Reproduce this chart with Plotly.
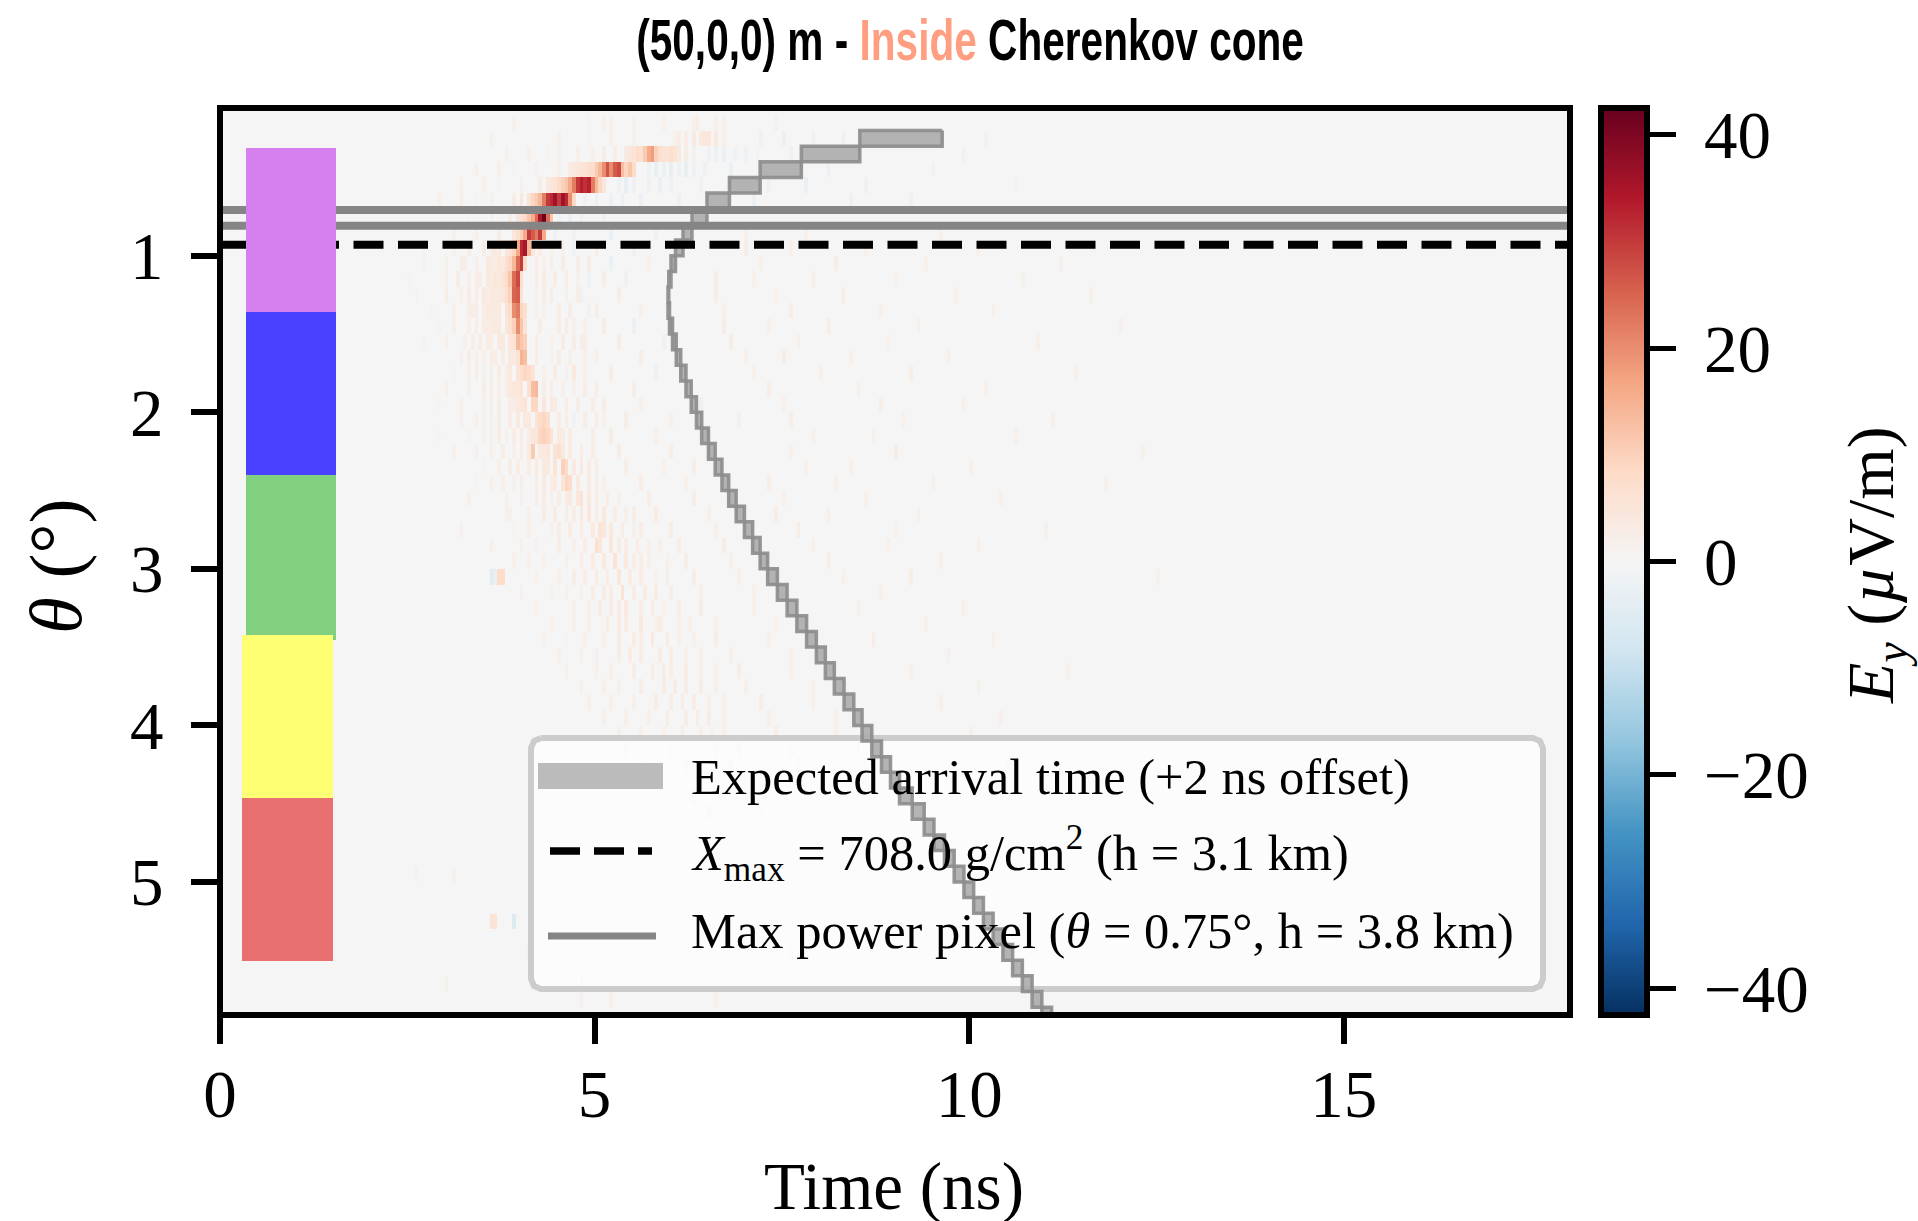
import numpy as np
import plotly.graph_objects as go

# ---------- data ----------
theta_rows = [round(0.05 + 0.1 * i, 2) for i in range(59)]
time_bins = [round(0.025 + 0.05 * j, 3) for j in range(361)]

ridge_cells = {
 0.15: [(4.9,1),(5.2,1.5),(5.5,1.5),(5.9,2),(6.3,2),(6.35,2.5),(6.6,2),(6.7,1.5)],
 0.25: [(4.9,1),(5.2,1.5),(5.5,1.5),(6.05,2),(6.1,3),(6.2,3),(6.3,3.5),(6.4,4),(6.45,5),(6.5,5),(6.6,4),(6.7,2)],
 0.35: [(4.35,1),(4.5,1.5),(4.75,2),(4.95,2),(5.1,2.5),(5.25,3),(5.4,3.5),(5.45,4.5),(5.5,6),(5.55,8),(5.6,7),(5.65,11),(5.7,16),(5.75,18),(5.8,10),(5.85,7),(5.9,6),(5.95,6),(6.0,7),(6.05,6),(6.1,4),(6.2,2.5),(6.3,1.5),(6.5,-1.5),(6.6,-2),(6.7,-2.5),(6.85,-1.5),(7.0,-1.5),(7.15,-1)],
 0.45: [(3.9,1),(4.2,1.5),(4.5,2),(4.65,3),(4.7,4),(4.75,5),(4.8,6),(4.85,6),(4.9,7),(4.95,8),(5.0,11),(5.05,14),(5.1,20),(5.15,27),(5.2,20),(5.25,26),(5.3,28),(5.35,13),(5.4,9),(5.45,12),(5.5,8),(5.7,-2),(5.8,-3),(5.9,-2.5),(6.0,-3),(6.1,-2),(6.2,-3),(6.3,-2),(6.45,-2)],
 0.55: [(3.7,1),(4.0,1.5),(4.27,3),(4.35,4),(4.4,5),(4.45,6),(4.5,8),(4.55,10),(4.6,12),(4.65,16),(4.7,22),(4.75,30),(4.8,33),(4.85,31),(4.9,33),(4.95,22),(5.0,14),(5.05,9),(5.1,5),(5.3,-2),(5.4,-3),(5.5,-2),(5.7,-2),(5.85,-2.5),(6.0,-2),(6.4,-1.5),(6.9,-1.5)],
 0.65: [(3.4,1),(3.6,1.5),(3.9,3),(4.0,5),(4.1,6),(4.15,9),(4.2,11),(4.25,14),(4.3,22),(4.35,30),(4.4,32),(4.45,36),(4.5,30),(4.55,36),(4.6,32),(4.65,20),(4.7,8),(4.85,-1.5),(5.0,-2),(5.2,-2.5),(5.35,-2)],
 0.75: [(3.3,1),(3.6,2),(3.85,3),(3.95,5),(4.0,6),(4.05,8),(4.1,12),(4.15,16),(4.2,24),(4.25,35),(4.3,43),(4.35,24),(4.4,12),(4.5,-2),(4.65,-2.5),(4.8,-2),(5.1,-1.5)],
 0.85: [(3.1,1.5),(3.4,2),(3.7,3),(3.9,5),(3.95,7),(4.0,10),(4.05,16),(4.1,30),(4.15,26),(4.2,22),(4.25,30),(4.3,16),(4.45,-2),(4.7,-1.5)],
 0.95: [(2.7,1),(3.1,1.5),(3.5,2.5),(3.7,4),(3.8,5),(3.85,6),(3.9,9),(3.95,16),(4.0,32),(4.05,35),(4.1,14),(4.15,5),(4.4,2),(4.7,-1.5)],
 1.05: [(2.7,1),(3.0,1.5),(3.4,2),(3.55,4),(3.7,5),(3.8,7),(3.85,9),(3.9,14),(3.95,24),(4.0,30),(4.05,8),(4.3,2),(4.55,2.5)],
 1.15: [(2.5,1),(3.0,2),(3.3,2),(3.55,4),(3.65,5),(3.75,6),(3.8,8),(3.85,12),(3.9,24),(3.95,28),(4.0,7),(4.3,3),(4.45,3),(4.9,-1.5)],
 1.25: [(2.6,1),(3.2,2),(3.4,3),(3.5,4),(3.65,4),(3.75,5),(3.8,7),(3.85,10),(3.9,25),(3.95,26),(4.0,6),(4.2,2),(4.6,1.5)],
 1.35: [(2.8,1),(3.1,2),(3.5,3),(3.6,4),(3.7,4),(3.8,6),(3.85,8),(3.9,20),(3.95,22),(4.0,9),(4.05,7),(4.3,1.5),(4.9,-1.5)],
 1.45: [(2.9,1),(3.3,2),(3.55,3),(3.7,4),(3.8,5),(3.85,7),(3.9,10),(3.95,20),(4.0,12),(4.05,6),(4.5,3),(4.7,2)],
 1.55: [(2.7,1),(3.25,2),(3.55,3),(3.75,4),(3.85,5),(3.9,6),(3.95,14),(4.0,12),(4.05,10),(4.4,2),(4.55,3)],
 1.65: [(3.2,1.5),(3.5,2),(3.75,3),(3.85,4),(3.95,6),(4.0,15),(4.05,13),(4.4,2),(4.65,2)],
 1.75: [(3.1,1),(3.5,1.5),(3.8,3),(3.95,6),(4.0,7),(4.05,9),(4.1,8),(4.15,6),(4.6,2),(4.7,4)],
 1.85: [(3.3,1.5),(3.7,2),(3.9,5),(4.0,6),(4.1,7),(4.15,13),(4.2,14),(4.55,2),(4.7,1.5)],
 1.95: [(2.9,1),(3.5,1.5),(3.85,3),(4.05,6),(4.15,9),(4.2,9),(4.3,5),(4.4,4),(4.6,3)],
 2.05: [(3.2,1.5),(3.6,1.5),(4.05,4),(4.2,6),(4.25,8),(4.3,9),(4.35,7),(4.5,3),(4.7,-1.5)],
 2.15: [(2.9,1),(3.3,1),(3.8,2),(4.1,3),(4.2,5),(4.25,9),(4.3,10),(4.35,9),(4.4,6),(4.55,3)],
 2.25: [(3.4,1.5),(3.9,2),(4.15,11),(4.25,4),(4.35,5),(4.45,6),(4.5,7),(4.55,4),(4.8,3)],
 2.35: [(3.5,1),(3.95,3),(4.3,4),(4.45,6),(4.55,10),(4.6,8),(4.8,4),(5.0,2.5)],
 2.45: [(3.4,1),(3.9,1.5),(4.4,3),(4.55,5),(4.6,9),(4.65,8),(4.9,3),(5.1,2)],
 2.55: [(4.0,1.5),(4.4,2),(4.6,3),(4.75,5),(4.8,6),(5.0,3),(5.3,2)],
 2.65: [(4.1,2),(4.6,2.5),(4.8,4),(4.9,5),(5.0,3),(5.25,3),(5.4,2)],
 2.75: [(3.9,1),(4.4,1.5),(4.8,3),(5.05,6),(5.1,5),(5.35,3),(5.5,2)],
 2.85: [(4.2,1.5),(4.7,2),(5.0,7),(5.05,5),(5.2,5),(5.4,3),(5.7,2)],
 2.95: [(4.1,1.5),(4.6,2),(5.1,4),(5.25,6),(5.4,4),(5.7,2)],
 3.05: [(3.6,-5),(3.65,-3),(3.7,8),(3.75,8),(4.5,2),(5.0,3),(5.3,5),(5.45,3),(5.8,2)],
 3.15: [(4.4,1.5),(4.8,2),(5.1,3),(5.35,6),(5.5,3),(5.8,3)],
 3.25: [(4.7,1.5),(5.2,3),(5.4,4),(5.6,3),(5.9,2)],
 3.35: [(4.9,2),(5.4,3),(5.6,4),(5.8,2),(6.1,2)],
 3.45: [(4.6,1),(5.1,2),(5.5,3),(5.75,4),(6.1,2)],
 3.55: [(5.0,1.5),(5.6,3),(5.85,3),(6.2,2)],
 3.65: [(5.2,2),(5.75,3),(6.0,3),(6.4,2)],
 3.75: [(5.3,1.5),(5.9,3),(6.2,2.5),(6.6,2)],
 3.85: [(5.5,2),(6.0,2.5),(6.3,3),(6.7,1.5)],
 3.95: [(5.7,2),(6.2,2.5),(6.5,2.5)],
 4.05: [(5.9,2),(6.4,2),(6.7,2)],
 4.15: [(6.0,1.5),(6.6,2),(6.9,2)],
 4.25: [(6.2,1.5),(6.8,2)],
 4.35: [(6.4,1.5),(7.0,2)],
 5.25: [(3.6,6),(3.65,6),(3.9,-6)],
}

faint_cells = {
 0.15: [(3.9,1.5),(5.1,2),(7.4,-1.5)],
 0.25: [(3.6,1.5),(4.5,2),(7.2,-2),(7.5,-2.5),(7.9,-2),(8.3,-2),(10.2,-1.5)],
 0.35: [(3.8,2),(4.1,2),(7.6,-2),(8.0,-2),(9.9,-1.5)],
 0.45: [(3.4,2),(3.7,2),(6.8,-2.5),(7.2,-2),(7.7,-2),(8.1,-2.5),(9.5,-1.5)],
 0.55: [(3.2,2),(3.5,2),(6.4,-2),(6.9,-2.5),(7.3,-2),(7.8,-2.5),(8.6,-2),(10.6,-1.5)],
 0.65: [(2.9,2),(3.2,2.5),(5.6,-2.5),(6.1,-2),(7.1,-2.5),(8.4,-2),(9.2,-2)],
 0.85: [(5.2,-2.5),(5.8,-2),(7.0,2),(7.8,2),(9.6,2)],
 0.95: [(5.0,2.5),(5.5,-2),(7.0,2.5),(7.6,2),(8.6,2),(10.1,2)],
 1.05: [(3.2,2.5),(4.9,2.5),(5.2,-2.5),(5.7,2),(7.2,2),(8.2,2.5),(9.4,2),(11.2,1.5)],
 1.15: [(3.15,2.5),(5.1,2.5),(5.4,-2),(6.6,2.5),(7.1,2),(7.9,2.5),(9.0,2),(10.7,1.5)],
 1.25: [(3.0,2.5),(4.8,-2),(5.3,3),(6.6,2.5),(7.4,2),(8.3,2.5),(9.8,2),(11.6,1.5)],
 1.35: [(3.3,2.5),(5.0,3),(5.6,2),(6.7,2),(7.6,2.5),(8.8,2),(10.3,2)],
 1.45: [(3.1,2),(5.1,2.5),(5.5,-2.5),(6.7,2.5),(7.3,2),(8.1,2.5),(9.3,2),(12.0,1.5)],
 1.55: [(3.0,2),(4.8,2.5),(5.3,3),(5.9,-2),(6.8,2.5),(7.7,2),(8.9,2),(10.9,2)],
 1.65: [(3.4,2),(5.0,2),(5.6,2.5),(7.0,2),(7.5,2.5),(8.4,2),(9.7,2)],
 1.75: [(3.3,2),(5.2,2.5),(5.8,-2),(7.1,2),(8.0,2),(9.2,2.5),(11.4,1.5)],
 1.85: [(3.0,2),(5.0,3),(5.5,2.5),(6.2,2),(7.3,2.5),(8.5,2),(10.2,2)],
 1.95: [(3.2,2),(5.1,2.5),(5.6,2),(6.4,-2),(7.5,2),(8.8,2.5),(9.9,2)],
 2.05: [(3.4,2),(5.0,3),(5.4,2.5),(6.0,2),(6.9,-2),(7.6,2.5),(9.1,2),(11.1,1.5)],
 2.15: [(3.6,2),(5.2,2.5),(5.8,2),(6.4,2.5),(7.9,2),(8.7,2),(10.6,2)],
 2.25: [(3.1,2),(5.3,3),(6.0,2.5),(6.5,-2),(7.6,2),(9.0,2.5),(12.3,1.5)],
 2.35: [(3.7,2),(5.4,2.5),(5.9,2),(6.3,2.5),(7.8,2),(8.4,2),(10.0,2)],
 2.45: [(3.6,2),(5.6,3),(6.2,2),(7.3,2.5),(8.2,2),(9.5,2),(11.8,1.5)],
 2.55: [(3.3,2),(5.7,2.5),(6.3,2.5),(7.5,2),(8.6,2),(10.4,2)],
 2.65: [(3.8,2),(5.8,3),(6.5,2),(7.4,2.5),(8.1,2),(9.3,2)],
 2.75: [(3.2,1.5),(6.0,2.5),(6.6,2),(7.7,2.5),(9.0,2),(11.0,1.5)],
 2.85: [(3.6,2),(6.1,3),(6.7,2.5),(7.9,2),(8.9,2),(10.1,2)],
 2.95: [(3.9,2),(6.2,2.5),(6.8,2),(8.1,2.5),(9.6,2)],
 3.05: [(4.2,2),(6.3,2.5),(6.9,2),(8.3,2),(9.2,2.5),(12.5,1.5)],
 3.15: [(4.0,1.5),(6.4,2),(7.1,2),(8.8,2)],
 3.25: [(4.2,2),(6.4,2.5),(7.1,2),(8.5,2),(9.9,2)],
 3.35: [(4.4,2),(6.6,2),(7.4,2),(9.4,1.5)],
 3.45: [(4.3,2),(6.6,2.5),(7.3,2),(8.7,2.5),(10.3,2)],
 3.55: [(4.5,2),(6.8,2),(7.6,2),(9.7,1.5)],
 3.65: [(4.6,2),(6.9,2.5),(7.6,2),(9.2,2),(11.3,1.5)],
 3.75: [(4.8,2),(7.0,2),(7.9,2),(10.1,1.5)],
 3.85: [(4.9,2),(7.2,2.5),(7.9,2),(9.6,2)],
 3.95: [(5.1,1.5),(7.3,2),(8.2,2),(10.4,1.5)],
 4.05: [(5.3,1.5),(7.4,2.5),(8.2,2),(10.0,2)],
 4.15: [(5.4,1.5),(7.6,2),(8.5,2)],
 4.25: [(5.6,1.5),(7.7,2),(8.6,2),(10.5,2)],
 4.45: [(6.3,2),(7.0,2)],
 4.55: [(6.5,1.5),(7.2,2)],
 4.95: [(2.6,1.5),(3.1,1.5)],
 5.45: [(4.1,1.5),(7.6,1.5)],
 5.65: [(3.0,1.5),(4.8,1.5)],
 5.75: [(4.8,1.5),(5.2,1.5),(6.6,1.5)],
}

wash_cells = {
 0.95: [(3.3,2.5),(3.6,3),(3.65,3.5),(4.25,3),(4.55,2)],
 1.05: [(3.25,2.5),(3.6,3.5),(3.65,3),(3.75,4),(4.2,3),(4.4,2.5),(4.75,2.5)],
 1.15: [(3.4,3),(3.45,3),(3.6,3),(3.7,4),(4.2,3),(4.6,2.5),(4.75,2)],
 1.25: [(3.3,3),(3.55,3),(3.6,4),(3.7,3.5),(4.3,3),(4.4,2.5),(4.75,2.5)],
 1.35: [(3.35,2.5),(3.4,3),(3.55,3.5),(3.65,3.5),(4.2,2),(4.5,3),(4.65,2.5)],
 1.45: [(3.4,2.5),(3.5,3),(3.6,3),(3.65,4),(4.25,3),(4.6,3),(4.85,2)],
 1.55: [(3.35,2.5),(3.45,3),(3.6,3),(3.7,3.5),(4.2,2.5),(4.7,2.5),(4.85,2.5)],
 1.65: [(3.3,2.5),(3.6,3),(3.65,3),(3.9,4),(4.2,3),(4.5,2.5),(4.85,2)],
 1.75: [(3.4,2.5),(3.6,2.5),(3.7,3),(3.85,4),(4.3,2),(4.45,3),(4.85,2)],
 1.85: [(3.5,2.5),(3.6,2.5),(3.8,3),(3.85,4),(3.95,5),(4.3,2.5),(4.4,3),(4.85,3)],
 1.95: [(3.6,2.5),(3.7,2.5),(3.9,3),(3.95,4),(4.0,5),(4.45,3),(4.75,2.5),(4.95,2.5)],
 2.05: [(3.5,2),(3.7,2.5),(3.85,3),(3.95,4),(4.1,4),(4.6,3),(4.85,2.5),(5.1,2)],
 2.15: [(3.5,2),(3.7,2.5),(3.9,3),(4.0,3),(4.15,5),(4.5,4),(4.65,3),(4.95,2.5)],
 2.25: [(3.6,2),(3.75,2.5),(4.0,3),(4.1,4),(4.3,4),(4.65,3),(4.95,3)],
 2.35: [(3.7,2),(3.85,2.5),(4.1,3),(4.2,4),(4.35,4),(4.7,3.5),(4.9,3)],
 2.45: [(3.75,2),(4.0,2.5),(4.2,3),(4.3,3.5),(4.45,4),(4.75,4),(5.0,3)],
 2.55: [(3.8,2),(4.2,2.5),(4.3,3),(4.5,3),(4.65,4),(4.9,4),(5.15,3)],
 2.65: [(3.85,2),(4.3,2.5),(4.45,3),(4.7,3),(5.1,4),(5.5,2.5)],
 2.75: [(4.1,2),(4.5,3),(4.65,3),(4.95,4),(5.2,4),(5.6,2.5)],
 2.85: [(4.0,2),(4.5,2.5),(4.85,3),(5.3,3),(5.55,3),(5.85,2)],
 2.95: [(4.3,2),(4.8,3),(4.95,3),(5.5,3),(5.6,3),(5.95,2)],
 3.05: [(4.7,2.5),(4.85,3),(5.15,3),(5.6,3),(5.95,2.5)],
 3.15: [(4.6,2),(4.95,2.5),(5.2,3),(5.65,3),(6.0,2.5)],
 3.25: [(4.9,2),(5.05,2.5),(5.3,3),(5.75,3),(6.1,2.5)],
 3.35: [(4.7,1.5),(5.15,2.5),(5.3,3),(5.85,3),(6.25,2)],
 3.45: [(4.85,2),(5.3,2.5),(5.6,3),(5.95,3),(6.3,2)],
 3.55: [(4.8,2),(5.3,2.5),(5.45,3),(6.0,3),(6.4,2)],
 3.65: [(5.0,2),(5.5,2.5),(5.9,2.5),(6.2,3),(6.6,2)],
 3.75: [(5.1,2),(5.6,2.5),(6.05,3),(6.4,2.5)],
 3.85: [(5.2,2),(5.8,2.5),(6.15,3),(6.5,2)],
 3.95: [(5.4,2),(5.95,2.5),(6.35,2.5),(6.7,2)],
 4.05: [(5.6,2),(6.15,2.5),(6.55,2)],
}

# arrival time at each 0.1 deg row edge, starting at theta = 0.2
arrival_theta = [round(0.2 + 0.1 * i, 1) for i in range(58)]
arrival_time = [9.64,8.54,7.76,7.21,6.80,6.50,6.30,6.18,6.08,6.02,5.99,5.98,6.00,6.04,6.09,6.15,6.22,6.29,6.36,6.43,
                6.52,6.61,6.70,6.79,6.89,7.00,7.11,7.21,7.31,7.44,7.57,7.70,7.83,7.96,8.08,8.20,8.33,8.46,8.57,8.70,
                8.83,8.95,9.07,9.24,9.40,9.53,9.67,9.80,9.93,10.06,10.19,10.32,10.45,10.58,10.71,10.84,10.97,11.10]

max_power_theta = [0.708, 0.808]
xmax_theta = 0.93
time_span = [0, 18.02]
theta_span = [5.85, 0.0563]
x_ticks = [0, 5, 10, 15]
y_ticks = [1, 2, 3, 4, 5]
cbar_ticks = [-40, -20, 0, 20, 40]
zmax = 42.5

legend_labels = ["Expected arrival time (+2 ns offset)",
                 "<i>X</i><sub>max</sub> = 708.0 g/cm<sup>2</sup> (h = 3.1 km)",
                 "Max power pixel (<i>θ</i> = 0.75°, h = 3.8 km)"]

RDBU_R = [[0.0,"#053061"],[0.1,"#2166ac"],[0.2,"#4393c3"],[0.3,"#92c5de"],[0.4,"#d1e5f0"],[0.5,"#f5f5f5"],
          [0.6,"#fddbc7"],[0.7,"#f4a582"],[0.8,"#d6604d"],[0.9,"#b2182b"],[1.0,"#67001f"]]

# ---------- geometry ----------
W, H = 1918, 1221
L, R, T, B = 220, 1570, 108, 1015
def px(x): return (x - L) / (R - L)
def py(y): return (B - y) / (B - T)
def dx(x): return time_span[0] + px(x) * (time_span[1] - time_span[0])
def dy(y): return theta_span[0] + py(y) * (theta_span[1] - theta_span[0])

SERIF = "Liberation Serif"
TICK = 67

z = np.zeros((len(theta_rows), len(time_bins)))
for source in (wash_cells, faint_cells, ridge_cells):
    for th, cells in source.items():
        i = theta_rows.index(th)
        for t, v in cells:
            z[i, int(round(t / 0.05))] = v

fig = go.Figure()
fig.add_trace(go.Heatmap(
    x=time_bins, y=theta_rows, z=z, zmin=-zmax, zmax=zmax, colorscale=RDBU_R, hoverinfo="skip",
    colorbar=dict(x=(1601 - L) / (R - L), xanchor="left", xpad=0, y=1, yanchor="top", ypad=0, len=1,
                  thickness=46, outlinewidth=6, outlinecolor="black",
                  tickmode="array", tickvals=cbar_ticks, ticks="outside", ticklen=26, tickwidth=5, tickcolor="black",
                  tickfont=dict(family=SERIF, size=TICK, color="black"),
                  title=dict(text="")),
))

# legend frame with rounded corners, under the arrival-time staircase
x0, x1, y0, y1, r = 531, 1543, 738, 989, 10
fig.add_trace(go.Scatter(
    x=[dx(x0+r), dx(x1-r), dx(x1-3), dx(x1), dx(x1), dx(x1-3), dx(x1-r), dx(x0+r), dx(x0+3), dx(x0), dx(x0), dx(x0+3), dx(x0+r)],
    y=[dy(y0), dy(y0), dy(y0+3), dy(y0+r), dy(y1-r), dy(y1-3), dy(y1), dy(y1), dy(y1-3), dy(y1-r), dy(y0+r), dy(y0+3), dy(y0)],
    mode="lines", fill="toself", fillcolor="rgba(255,255,255,0.65)", line=dict(color="#CCCCCC", width=6),
    hoverinfo="skip", showlegend=False))

sx, sy = [], []
for k in range(len(arrival_time) - 1):
    t0, t1 = arrival_time[k], arrival_time[k + 1]
    a, b = arrival_theta[k], arrival_theta[k + 1]
    sx += [t0, t1, t1, t0, t0, None]
    sy += [a, a, b, b, a, None]
fig.add_trace(go.Scatter(x=sx, y=sy, mode="lines", fill="toself", fillcolor="rgba(172,172,172,0.9)",
                         line=dict(color="rgba(140,140,140,0.9)", width=3.5), hoverinfo="skip", showlegend=False))
for th in max_power_theta:
    fig.add_trace(go.Scatter(x=time_span, y=[th, th], mode="lines", line=dict(color="#858585", width=8),
                             hoverinfo="skip", showlegend=False))
fig.add_trace(go.Scatter(x=time_span, y=[xmax_theta, xmax_theta], mode="lines",
                         line=dict(color="black", width=8, dash="30px,14.5px"), hoverinfo="skip", showlegend=False))

shapes = []
def block(x0, x1, y0, y1, c):
    shapes.append(dict(type="rect", xref="paper", yref="paper", x0=px(x0), x1=px(x1), y0=py(y1), y1=py(y0),
                       fillcolor=c, line=dict(width=0), layer="above"))
block(246, 336, 148, 312, "#D67FEE")
block(246, 336, 312, 475, "#4A40FF")
block(246, 336, 475, 640, "#80D080")
block(242, 333, 635, 798, "#FFFF73")
block(242, 333, 798, 961, "#E87070")

shapes.append(dict(type="rect", xref="paper", yref="paper", x0=px(538), x1=px(663), y0=py(789), y1=py(763),
                   fillcolor="#BBBBBB", line=dict(width=0), layer="above"))
shapes.append(dict(type="line", xref="paper", yref="paper", x0=px(550), x1=px(652), y0=py(851), y1=py(851),
                   line=dict(color="black", width=7.5, dash="30px,14px"), layer="above"))
shapes.append(dict(type="line", xref="paper", yref="paper", x0=px(548), x1=px(656), y0=py(936), y1=py(936),
                   line=dict(color="#858585", width=7), layer="above"))
# plot frame centred on the axes' ends
shapes.append(dict(type="rect", xref="paper", yref="paper", x0=0, x1=1, y0=0, y1=1,
                   fillcolor="rgba(0,0,0,0)", line=dict(color="black", width=6), layer="above"))

annotations = []
for label, yc in zip(legend_labels, [777, 853, 931]):
    annotations.append(dict(text=label, xref="paper", yref="paper", x=px(689), y=py(yc), xanchor="left", yanchor="middle",
                            showarrow=False, font=dict(family=SERIF, size=50.5, color="black")))
annotations.append(dict(text="<i>E<sub>y</sub></i> (<i>µ</i>V/m)", xref="paper", yref="paper", x=px(1875), y=py(565),
                        xanchor="center", yanchor="middle", textangle=-90, showarrow=False,
                        font=dict(family=SERIF, size=66, color="black")))
annotations.append(dict(text="(50,0,0) m - <span style='color:#FF9E80'>Inside</span> Cherenkov cone",
                        xref="paper", yref="paper", x=px(970), y=py(39), xanchor="center", yanchor="middle",
                        showarrow=False, font=dict(family="Liberation Sans", size=58, weight=700, color="black")))
annotations.append(dict(text="Time (ns)", xref="paper", yref="paper", x=px(894), y=py(1186),
                        xanchor="center", yanchor="middle", showarrow=False,
                        font=dict(family=SERIF, size=TICK, color="black")))
annotations.append(dict(text="<i>θ</i> (°)", xref="paper", yref="paper", x=px(55), y=py(566),
                        xanchor="center", yanchor="middle", textangle=-90, showarrow=False,
                        font=dict(family=SERIF, size=75, color="black")))

axis = dict(showgrid=False, zeroline=False, showline=False, automargin=False,
            ticks="outside", ticklen=28, tickwidth=6, tickcolor="black",
            tickfont=dict(family=SERIF, size=TICK, color="black"))
fig.update_layout(
    width=W, height=H, autosize=False, margin=dict(l=L, r=W - R, t=T, b=H - B, pad=0, autoexpand=False),
    paper_bgcolor="white", plot_bgcolor="#f5f5f5", showlegend=False,
    xaxis=dict(axis, range=time_span, tickmode="array", tickvals=x_ticks, ticklabelstandoff=-7),
    yaxis=dict(axis, range=theta_span, tickmode="array", tickvals=y_ticks, ticklabelstandoff=14),
    shapes=shapes, annotations=annotations,
)
post = """
document.body.style.margin='0';document.body.style.overflow='hidden';
var st=document.createElement('style');
st.textContent='.cbaxis g{transform:translateX(15px);}';
document.head.appendChild(st);
document.querySelectorAll('.annotation-text').forEach(function(t){
  if(t.textContent.indexOf('Cherenkov')>=0){
    t.style.transformBox='fill-box';t.style.transformOrigin='center';t.style.transform='scaleX(0.70)';
  }
});
"""
fig.write_html("out.html", post_script=post, config={"displayModeBar": False})
